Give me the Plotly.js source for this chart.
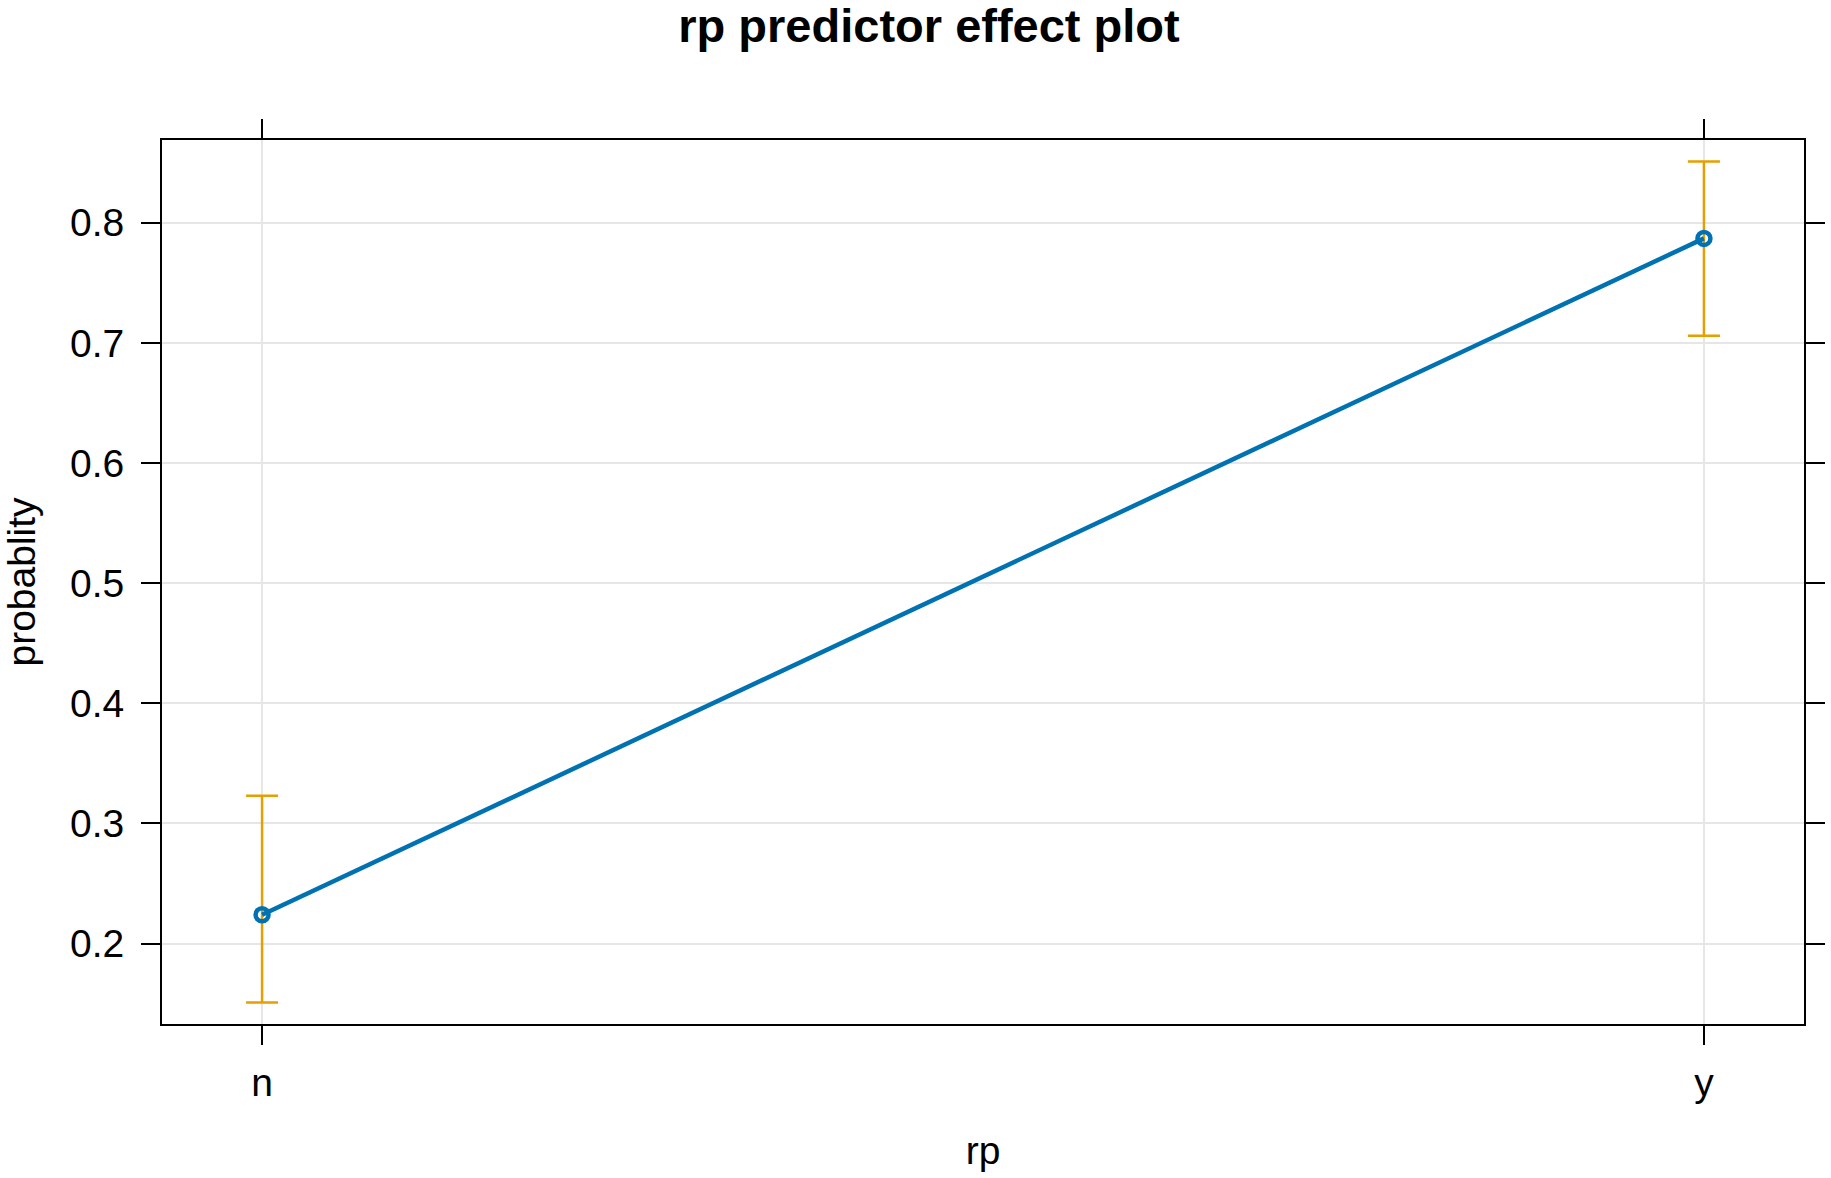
<!DOCTYPE html>
<html>
<head>
<meta charset="utf-8">
<script src="https://cdn.plot.ly/plotly-3.0.1.min.js"></script>
<style>html,body{margin:0;padding:0;background:#fff;}#chart{width:1831px;height:1178px;}</style>
</head>
<body>
<div id="chart"></div>
<script>
const categories = ["n", "y"];
const fitValues = [0.224, 0.787];
const upperValues = [0.323, 0.851];
const lowerValues = [0.151, 0.706];
const yTickVals = [0.2, 0.3, 0.4, 0.5, 0.6, 0.7, 0.8];
const yTickText = ["0.2", "0.3", "0.4", "0.5", "0.6", "0.7", "0.8"];

const xIdx = categories.map((c, i) => i);
const font = "Liberation Sans, Arial, sans-serif";

const errTrace = {
  x: xIdx,
  y: fitValues,
  type: "scatter",
  mode: "none",
  hoverinfo: "skip",
  error_y: {
    type: "data",
    symmetric: false,
    array: upperValues.map((u, i) => u - fitValues[i]),
    arrayminus: fitValues.map((f, i) => f - lowerValues[i]),
    color: "#E69F00",
    thickness: 2.5,
    width: 16
  },
  showlegend: false
};

const lineTrace = {
  x: xIdx,
  y: fitValues,
  type: "scatter",
  mode: "lines+markers",
  line: { color: "#0072B2", width: 4.5 },
  marker: { symbol: "circle-open", size: 13, color: "#0072B2", line: { width: 4.5, color: "#0072B2" } },
  showlegend: false
};

const axisCommon = {
  showline: true, linecolor: "#000", linewidth: 2, mirror: "ticks",
  ticks: "outside", ticklen: 19, tickwidth: 2, tickcolor: "#000",
  showgrid: true, gridcolor: "#e6e6e6", gridwidth: 2,
  zeroline: false,
  tickfont: { family: font, size: 39, color: "#000" }
};

const layout = {
  width: 1831, height: 1178,
  margin: { l: 162, r: 27, t: 140, b: 154 },
  paper_bgcolor: "#fff", plot_bgcolor: "#fff",
  title: {
    text: "<b>rp predictor effect plot</b>",
    font: { family: font, size: 47, color: "#000" },
    x: 929 / 1831, xref: "container", xanchor: "center",
    y: 1 - 9 / 1178, yref: "container", yanchor: "top"
  },
  xaxis: Object.assign({}, axisCommon, {
    range: [-0.0694, 1.0694],
    tickmode: "array", tickvals: xIdx, ticktext: categories,
    ticklabelstandoff: 4,
    title: { text: "rp", font: { family: font, size: 39, color: "#000" }, standoff: 34 }
  }),
  yaxis: Object.assign({}, axisCommon, {
    range: [0.1331, 0.8689],
    tickmode: "array", tickvals: yTickVals, ticktext: yTickText,
    ticklabelstandoff: 9,
    title: { text: "probablity", font: { family: font, size: 39, color: "#000" }, standoff: 33 }
  })
};

Plotly.newPlot("chart", [errTrace, lineTrace], layout, { displayModeBar: false, staticPlot: true });
</script>
</body>
</html>
